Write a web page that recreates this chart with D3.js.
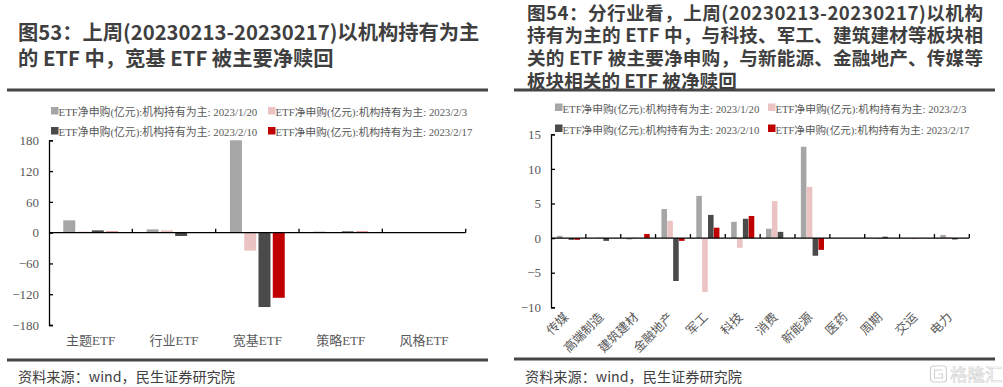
<!DOCTYPE html>
<html>
<head>
<meta charset="utf-8">
<script src="https://cdn.jsdelivr.net/npm/d3@7"></script>
<style>
  body { margin: 0; background: #fff; }
  svg { display: block; }
  .title { font-family: "Noto Sans CJK SC", "Noto Sans", sans-serif; font-weight: bold; fill: #3f3f3f; }
  .foot { font-family: "Noto Sans CJK SC", "Noto Sans", sans-serif; fill: #404040; }
  .lab { font-family: "Liberation Serif", "Noto Sans CJK SC", serif; fill: #595959; font-size: 13px; }
</style>
</head>
<body>
<svg id="chart" width="1003" height="387"></svg>
<script>
// series names (shared by both charts)
var seriesNames = ['ETF净申购(亿元):机构持有为主: 2023/1/20',
                   'ETF净申购(亿元):机构持有为主: 2023/2/3',
                   'ETF净申购(亿元):机构持有为主: 2023/2/10',
                   'ETF净申购(亿元):机构持有为主: 2023/2/17'];
var seriesColors = ['#a6a6a6', '#ebc3c3', '#4a4a4a', '#c00000'];

// left chart: ETF types
var typeCats = ['主题ETF', '行业ETF', '宽基ETF', '策略ETF', '风格ETF'];
var type0120 = [24, 6.5, 180, 2, 0];
var type0203 = [2, 4.5, -35, 0, 0];
var type0210 = [4.5, -6.5, -145, 2.5, 0];
var type0217 = [2, 0, -127, 2, 0];
var typeTicks = [-180, -120, -60, 0, 60, 120, 180];

// right chart: industries
var indCats = ['传媒', '高端制造', '建筑建材', '金融地产', '军工', '科技', '消费', '新能源', '医药', '周期', '交运', '电力'];
var ind0120 = [0.33, 0, -0.2, 4.2, 6.1, 2.35, 1.35, 13.2, 0, 0, 0, 0.45];
var ind0203 = [0, 0.1, 0.1, 2.5, -7.8, -1.4, 5.35, 7.4, 0, -0.15, -0.15, 0.15];
var ind0210 = [-0.25, -0.4, 0, -6.2, 3.35, 2.8, 0.9, -2.55, 0, 0.2, 0, -0.2];
var ind0217 = [-0.25, 0, 0.6, -0.4, 1.5, 3.2, 0, -1.7, 0, 0, 0, 0];
var indTicks = [-10, -5, 0, 5, 10, 15];

var svg = d3.select('#chart');

// shrink/grow a text's font so it spans roughly w pixels
function fitFont(sel, base, w) {
  sel.style('font-size', base + 'px');
  var cur = sel.node().getComputedTextLength();
  sel.style('font-size', (base * w / cur).toFixed(2) + 'px');
}

// ---------- titles / rules / footers ----------
var t1 = ['图53：上周(20230213-20230217)以机构持有为主',
          '的 ETF 中，宽基 ETF 被主要净赎回'];
t1.forEach(function(t, i) {
  svg.append('text').attr('class', 'title')
    .attr('x', 18).attr('y', 40 + i * 26)
    .style('font-size', '20.3px')
    .text(t);
});
var t2 = ['图54：分行业看，上周(20230213-20230217)以机构',
          '持有为主的 ETF 中，与科技、军工、建筑建材等板块相',
          '关的 ETF 被主要净申购，与新能源、金融地产、传媒等',
          '板块相关的 ETF 被净赎回'];
t2.forEach(function(t, i) {
  var s = svg.append('text').attr('class', 'title')
    .attr('x', 527).attr('y', 19.5 + i * 22.8)
    .style('font-size', '18.6px')
    .text(t);
  if (i < 3) s.attr('textLength', 456).attr('lengthAdjust', 'spacing');
});

svg.append('rect').attr('x', 7).attr('y', 88.5).attr('width', 481).attr('height', 3).attr('fill', '#454545');
svg.append('rect').attr('x', 514).attr('y', 88.5).attr('width', 481).attr('height', 3).attr('fill', '#454545');
svg.append('rect').attr('x', 7).attr('y', 358.5).attr('width', 481).attr('height', 3).attr('fill', '#454545');
svg.append('rect').attr('x', 514).attr('y', 357.5).attr('width', 481).attr('height', 3).attr('fill', '#454545');

fitFont(svg.append('text').attr('class', 'foot').attr('x', 18).attr('y', 382)
  .text('资料来源：wind，民生证券研究院'), 15, 217);
fitFont(svg.append('text').attr('class', 'foot').attr('x', 525).attr('y', 382)
  .text('资料来源：wind，民生证券研究院'), 15, 217);

// watermark
var wm = svg.append('g').attr('transform', 'translate(930,365)');
wm.append('rect').attr('x', 0.5).attr('y', 1).attr('width', 16).attr('height', 16).attr('rx', 3)
  .attr('fill', 'none').attr('stroke', '#d2d2d2').attr('stroke-width', 1.2);
wm.append('path').attr('d', 'M12.5,5 H4.5 V13 H12.5 V9 H8.5').attr('fill', 'none').attr('stroke', '#d2d2d2').attr('stroke-width', 1.2);
wm.append('text').attr('x', 20).attr('y', 16).style('font-family', '"Noto Sans CJK SC", sans-serif')
  .style('font-size', '17.5px').attr('fill', '#fff').attr('stroke', '#d0d0d0').attr('stroke-width', 0.6)
  .text('格隆汇');

// ---------- generic bar chart ----------
function drawChart(opt) {
  var g = svg.append('g');
  var series = opt.values.map(function(vals, k) {
    return { name: seriesNames[k], color: seriesColors[k], vals: vals };
  });

  var x = d3.scaleBand().domain(opt.cats).range([opt.left, opt.right]).paddingInner(0).paddingOuter(0);
  var y = d3.scaleLinear().domain(opt.domain).range([opt.bottom, opt.top]);
  var inner = d3.scaleBand().domain(d3.range(4))
    .range([0, x.bandwidth()]).paddingInner(opt.gap).paddingOuter(opt.outer);

  // legend
  series.forEach(function(s, k) {
    var lx = opt.legX[k % 2], ly = opt.legY[Math.floor(k / 2)];
    g.append('rect').attr('x', lx).attr('y', ly - 4.5).attr('width', 7.5).attr('height', 7.5).attr('fill', s.color);
    var t = g.append('text').attr('class', 'lab').attr('x', lx + 7.5).attr('y', ly + 4.5).text(s.name);
    fitFont(t, 13, opt.legW[k]);
  });

  // bars
  series.forEach(function(s, k) {
    g.append('g').selectAll('rect')
      .data(s.vals)
      .join('rect')
      .attr('x', (d, i) => x(opt.cats[i]) + inner(k))
      .attr('width', inner.bandwidth())
      .attr('y', d => y(Math.max(0, d)))
      .attr('height', d => Math.abs(y(d) - y(0)))
      .attr('fill', s.color);
  });

  // y axis
  var yAx = g.append('g').attr('transform', `translate(${opt.left},0)`)
    .call(d3.axisLeft(y).tickValues(opt.ticks).tickSize(-4).tickPadding(10).tickFormat(d3.format('d')));
  yAx.select('.domain').attr('stroke', '#000').attr('stroke-width', 1.3);
  yAx.selectAll('.tick line').attr('stroke', '#000').attr('stroke-width', 1.3);
  yAx.selectAll('.tick text').attr('class', 'lab').style('font-size', '13px').attr('fill', '#595959');
  yAx.attr('font-family', null).attr('font-size', null);

  // x axis on zero line (tick marks at category boundaries)
  var z = y(0);
  g.append('line').attr('x1', opt.left).attr('x2', opt.right).attr('y1', z).attr('y2', z)
    .attr('stroke', '#000').attr('stroke-width', 1.3);
  g.append('g').selectAll('line')
    .data(opt.cats)
    .join('line')
    .attr('x1', d => x(d) + x.bandwidth()).attr('x2', d => x(d) + x.bandwidth())
    .attr('y1', z).attr('y2', z - 4)
    .attr('stroke', '#000').attr('stroke-width', 1.3);

  // category labels
  if (opt.rotate) {
    g.append('g').selectAll('text')
      .data(opt.cats)
      .join('text')
      .attr('class', 'lab')
      .attr('text-anchor', 'end')
      .style('font-size', '12.5px')
      .attr('transform', d => `translate(${x(d) + x.bandwidth() / 2 + 1},${opt.labY}) rotate(-45)`)
      .text(d => d);
  } else {
    g.append('g').selectAll('text')
      .data(opt.cats)
      .join('text')
      .attr('class', 'lab')
      .attr('text-anchor', 'middle')
      .attr('x', d => x(d) + x.bandwidth() / 2)
      .attr('y', opt.labY)
      .text(d => d);
  }
}

drawChart({
  cats: typeCats,
  values: [type0120, type0203, type0210, type0217],
  domain: [-180, 180], ticks: typeTicks,
  left: 49, right: 465.7, top: 140.3, bottom: 325,
  gap: 0.16, outer: 1.0,
  legX: [51, 268], legY: [111.5, 131.5], legW: [199, 192, 199, 197],
  labY: 345, rotate: false
});

drawChart({
  cats: indCats,
  values: [ind0120, ind0203, ind0210, ind0217],
  domain: [-10, 15], ticks: indTicks,
  left: 551, right: 969.3, top: 134.3, bottom: 307.3,
  gap: 0.05, outer: 1.0,
  legX: [555, 768], legY: [108, 129], legW: [197, 191, 197, 194],
  labY: 318, rotate: true
});
</script>
</body>
</html>
